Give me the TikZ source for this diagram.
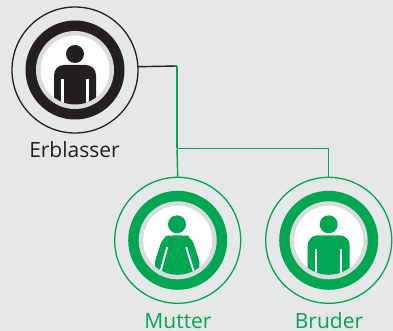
\documentclass[tikz,border=0pt]{standalone}
\usepackage{fontspec}
\setmainfont{Open Sans}
\usetikzlibrary{positioning}
\definecolor{paper}{HTML}{E6E7E8}
\definecolor{erbblack}{HTML}{231F20}
\definecolor{erbgreen}{HTML}{00A651}
\definecolor{halo}{HTML}{DADBDC}
\tikzset{
  badge/.style={circle, draw=#1, line width=1.3pt, inner sep=0pt, outer sep=0pt, minimum size=126pt},
  caption/.style={text=#1, font=\fontsize{21}{21}\selectfont, anchor=base, inner sep=0pt},
  link/.style={draw=erbgreen, line width=1.4pt},
  pics/disc/.style={code={
    \fill[#1] (0,0) circle (49.5);
    \fill[halo] (0,0) circle (39);
    \fill[white] (0,0) circle (34.5);
  }},
  pics/man/.style={code={
    \fill[#1] (0,16) circle (9);
    \begin{scope}
    \clip (0,0) circle (34.5);
    \fill[#1, rounded corners=10pt] (-21,-45) -- (-21,5) -- (21,5) -- (21,-45) -- cycle;
    \fill[white] (-13.7,-45) rectangle (-11.4,-9);
    \fill[white] (11.4,-45) rectangle (13.7,-9);
    \end{scope}
  }},
  pics/woman/.style={code={
    \fill[#1] (-0.7,16) circle (9);
    \begin{scope}
    \clip (0,0) circle (34.5);
    \fill[#1, rounded corners=7pt] (-9,5) -- (8,5) -- (14,3) -- (23,-25) -- (16,-45) -- (-16,-45) -- (-24,-25) -- (-15,3) -- cycle;
    \draw[white, line width=1.9pt] (-10.5,-7) -- (-18.5,-36);
    \draw[white, line width=1.9pt] (8.5,-7) -- (17.5,-36);
    \end{scope}
  }}
}
\begin{document}
\begin{tikzpicture}[x=1pt, y=1pt]
\useasboundingbox (0,0) rectangle (393,-331);
\fill[paper] (0,0) rectangle (393,-331);

\node[badge=erbblack] (erblasser) at (75,-70) {};
\node[badge=erbgreen] (mutter) at (177.7,-240.3) {};
\node[badge=erbgreen] (bruder) at (328.7,-240.3) {};

\pic at (erblasser) {disc=erbblack};
\pic at (erblasser) {man=erbblack};
\pic at (mutter) {disc=erbgreen};
\pic at (mutter) {woman=erbgreen};
\pic at (bruder) {disc=erbgreen};
\pic at (bruder) {man=erbgreen};

\node[caption=erbblack] (erblasser label) at (74.5,-158) {Erblasser};
\node[caption=erbgreen] (mutter label) at (178,-328.5) {Mutter};
\node[caption=erbgreen] (bruder label) at (329,-328.5) {Bruder};

\coordinate (knee) at (177,-66);
\coordinate (fork) at (177,-148.5);

\draw[erbblack, line width=1.4pt] (erblasser.3.6) -- (knee);
\draw[link] (knee) -- (fork);
\draw[link] (fork) -- (mutter.north);
\draw[link] (fork) -| (bruder.north);
\end{tikzpicture}
\end{document}
